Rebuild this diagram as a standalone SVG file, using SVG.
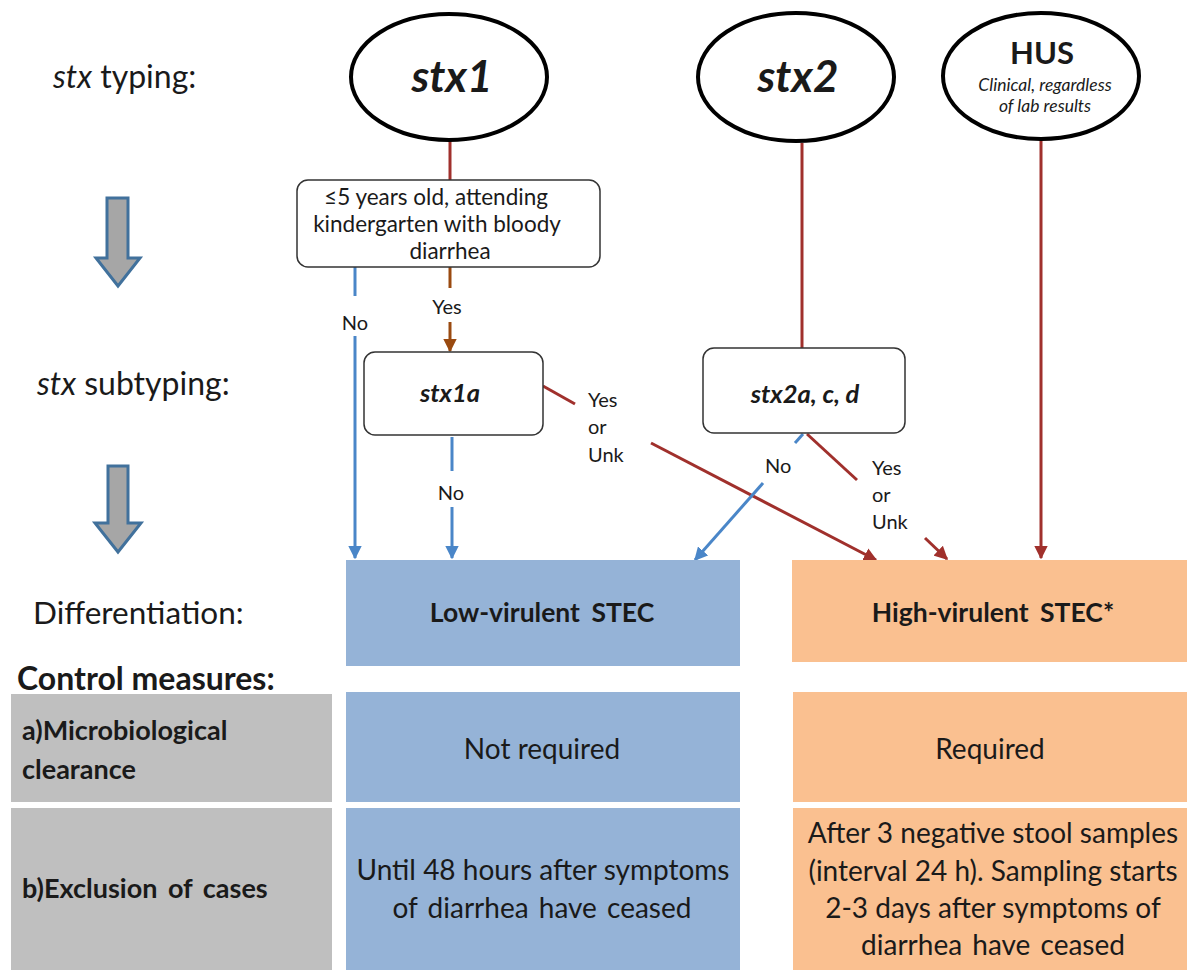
<svg xmlns="http://www.w3.org/2000/svg" width="1187" height="970" viewBox="0 0 1187 970">
<defs>
<style>
text{font-family:Lato,"Open Sans","Liberation Sans",sans-serif;fill:#1a1a1a}
.ell{fill:#fff;stroke:#000;stroke-width:4}
.box{fill:#fff;stroke:#333;stroke-width:1.5}
.blue{fill:#95B3D7}
.orange{fill:#FAC090}
.gray{fill:#BFBFBF}
.red{stroke:#A0302C;stroke-width:3;fill:none}
.brown{stroke:#9A4A10;stroke-width:3;fill:none}
.bl{stroke:#4A86C8;stroke-width:3;fill:none}
.lab{font-size:20px}
.body{font-size:28px}
.side{font-size:32px}
.bigarrow{fill:#A6A6A6;stroke:#41719C;stroke-width:3}
</style>
<marker id="mRed" viewBox="0 0 10 10" refX="9" refY="5" markerWidth="4.5" markerHeight="4.5" orient="auto"><path d="M0,0 L10,5 L0,10 z" fill="#A0302C"/></marker>
<marker id="mBrown" viewBox="0 0 10 10" refX="9" refY="5" markerWidth="4.5" markerHeight="4.5" orient="auto"><path d="M0,0 L10,5 L0,10 z" fill="#9A4A10"/></marker>
<marker id="mBlue" viewBox="0 0 10 10" refX="9" refY="5" markerWidth="4.5" markerHeight="4.5" orient="auto"><path d="M0,0 L10,5 L0,10 z" fill="#4A86C8"/></marker>
</defs>
<rect width="1187" height="970" fill="#fff"/>

<g id="side-labels">
<text class="side" x="53" y="88"><tspan font-style="italic">stx</tspan> typing:</text>
<path class="bigarrow" d="M107,198 H128 V258 H140 L118,286 L96,258 H107 Z"/>
<text class="side" x="37" y="395"><tspan font-style="italic">stx</tspan> subtyping:</text>
<path class="bigarrow" d="M108,466 H128 V523 H141 L118,552 L95,523 H108 Z"/>
<text x="33" y="624" font-size="31.5">Differentiation:</text>
<text x="17" y="690" font-size="32" font-weight="bold">Control measures:</text>
</g>

<g id="connectors">
<line class="red" x1="450" y1="141" x2="450" y2="180"/>
<line class="bl" x1="355" y1="267" x2="355" y2="296"/>
<line class="bl" x1="355" y1="336" x2="355" y2="558" marker-end="url(#mBlue)"/>
<text class="lab" x="355" y="330" text-anchor="middle">No</text>
<line class="brown" x1="450" y1="267" x2="450" y2="288"/>
<line class="brown" x1="450" y1="322" x2="450" y2="351" marker-end="url(#mBrown)"/>
<text class="lab" x="447" y="314" text-anchor="middle">Yes</text>
<line class="bl" x1="452" y1="437" x2="452" y2="471"/>
<line class="bl" x1="452" y1="507" x2="452" y2="558" marker-end="url(#mBlue)"/>
<text class="lab" x="451" y="500" text-anchor="middle">No</text>
<line class="red" x1="543" y1="386" x2="575" y2="404"/>
<text class="lab" x="588" y="407">Yes</text>
<text class="lab" x="588" y="434">or</text>
<text class="lab" x="588" y="462">Unk</text>
<line class="red" x1="651" y1="443" x2="876" y2="560" marker-end="url(#mRed)"/>
<line class="red" x1="802" y1="143" x2="802" y2="348"/>
<line class="bl" x1="803" y1="434" x2="795" y2="443"/>
<text class="lab" x="765" y="473">No</text>
<line class="bl" x1="763" y1="483" x2="695" y2="560" marker-end="url(#mBlue)"/>
<line class="red" x1="807" y1="434" x2="857" y2="480"/>
<text class="lab" x="872" y="475">Yes</text>
<text class="lab" x="872" y="502">or</text>
<text class="lab" x="872" y="529">Unk</text>
<line class="red" x1="925" y1="538" x2="947" y2="559" marker-end="url(#mRed)"/>
<line class="red" x1="1041" y1="140" x2="1041" y2="558" marker-end="url(#mRed)"/>
</g>

<g id="node-stx1">
<ellipse class="ell" cx="449" cy="77" rx="98" ry="63"/>
<text x="452" y="92" font-size="44" font-weight="bold" font-style="italic" text-anchor="middle">stx1</text>
</g>
<g id="node-stx2">
<ellipse class="ell" cx="796" cy="77" rx="98" ry="64"/>
<text x="798" y="92" font-size="44" font-weight="bold" font-style="italic" text-anchor="middle">stx2</text>
</g>
<g id="node-hus">
<ellipse class="ell" cx="1041" cy="76" rx="98" ry="63"/>
<text x="1042" y="64" font-size="31" font-weight="bold" text-anchor="middle">HUS</text>
<text x="1045" y="91" font-size="17.5" font-style="italic" text-anchor="middle" fill="#333">Clinical, regardless</text>
<text x="1045" y="112" font-size="17.5" font-style="italic" text-anchor="middle" fill="#333">of lab results</text>
</g>
<g id="node-age">
<rect class="box" x="297" y="180" width="303" height="87" rx="11"/>
<text x="436" y="205" font-size="22.5" text-anchor="middle">≤5 years old, attending</text>
<text x="437" y="232" font-size="22.5" text-anchor="middle">kindergarten with bloody</text>
<text x="450" y="259" font-size="22.5" text-anchor="middle">diarrhea</text>
</g>
<g id="node-stx1a">
<rect class="box" x="364" y="352" width="179" height="83" rx="11"/>
<text x="450" y="402" font-size="25.5" font-weight="bold" font-style="italic" text-anchor="middle">stx1a</text>
</g>
<g id="node-stx2acd">
<rect class="box" x="703" y="348" width="202" height="85" rx="11"/>
<text x="805" y="403" font-size="25.5" font-weight="bold" font-style="italic" text-anchor="middle">stx2a, c, d</text>
</g>

<g id="node-low">
<rect class="blue" x="346" y="560" width="394" height="106"/>
<text x="542" y="622" font-size="26.5" font-weight="bold" word-spacing="5" text-anchor="middle">Low-virulent STEC</text>
</g>
<g id="node-high">
<rect class="orange" x="792" y="560" width="395" height="102"/>
<text x="993" y="622" font-size="26.5" font-weight="bold" word-spacing="5" text-anchor="middle">High-virulent STEC*</text>
</g>

<g id="row-clearance">
<rect class="gray" x="11" y="694" width="321" height="108"/>
<text x="22" y="740" font-size="27" font-weight="bold">a)Microbiological</text>
<text x="22" y="779" font-size="27" font-weight="bold">clearance</text>
<rect class="blue" x="346" y="692" width="394" height="110"/>
<text class="body" x="542" y="759" text-anchor="middle">Not required</text>
<rect class="orange" x="793" y="692" width="394" height="110"/>
<text class="body" x="990" y="759" text-anchor="middle">Required</text>
</g>

<g id="row-exclusion">
<rect class="gray" x="11" y="808" width="321" height="162"/>
<text x="22" y="898" font-size="27" font-weight="bold" word-spacing="4">b)Exclusion of cases</text>
<rect class="blue" x="346" y="808" width="394" height="162"/>
<text class="body" x="543" y="880" text-anchor="middle">Until 48 hours after symptoms</text>
<text class="body" x="542" y="918" text-anchor="middle" word-spacing="3">of diarrhea have ceased</text>
<rect class="orange" x="793" y="808" width="394" height="162"/>
<text class="body" x="993" y="843" text-anchor="middle">After 3 negative stool samples</text>
<text class="body" x="993" y="881" text-anchor="middle">(interval  24 h). Sampling starts</text>
<text class="body" x="993" y="918" text-anchor="middle">2-3 days after symptoms of</text>
<text class="body" x="993" y="955" text-anchor="middle" word-spacing="3">diarrhea have ceased</text>
</g>
</svg>
